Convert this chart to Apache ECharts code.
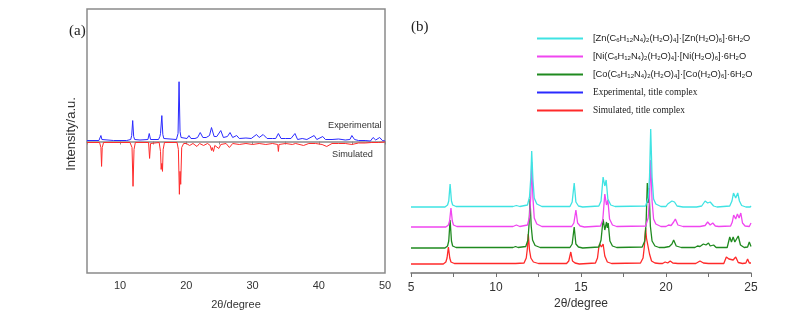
<!DOCTYPE html>
<html><head><meta charset="utf-8">
<script src="https://cdn.jsdelivr.net/npm/echarts@6/dist/echarts.min.js"></script>
<style>html,body{margin:0;padding:0;background:#fff}#c{width:794px;height:315px}</style>
</head><body><div id="c"></div>
<script>
// ---------- Panel (a): 2θ (deg) vs intensity (a.u.) ----------
const expA = [[5,1],[6.8,1],[6.95,2],[7.1,6],[7.25,2],[7.4,1],[9,1],[11,1],[11.6,2],[11.75,6],[11.9,21],[12.05,5],[12.2,2],[13,1.5],[14.2,2],[14.4,8],[14.6,2],[15.8,2],[16.0,5],[16.1,8],[16.3,26],[16.45,7],[16.6,3],[16.8,2],[18.5,2],[18.75,8],[18.9,60],[19.05,10],[19.2,4],[19.4,2],[20.1,3],[20.4,6],[20.7,3],[21.3,3],[21.7,4],[22.1,9],[22.5,4],[23.0,4],[23.5,6],[23.8,14],[24.2,5],[24.6,5],[25.2,11],[25.6,4],[26.2,5],[26.6,9],[27.0,4],[27.6,6],[28.0,3],[29,3.5],[29.8,3],[30.6,7],[31.0,4],[31.6,7],[32.2,3],[33,3],[33.5,3],[33.9,8],[34.3,3],[35,3],[35.8,3],[36.4,8],[36.8,2],[37.5,3],[38.2,2],[39.3,6],[39.7,2],[40.6,5],[41,2],[42,2],[43,2.5],[44,1.5],[44.7,2],[45,6],[45.4,2],[46,1],[47,1],[47.8,0.5],[48.2,4],[48.6,1.5],[49.2,4],[49.6,1],[50,0.5]];
const simA = [[5,-1],[6.9,-1],[7.1,-6],[7.2,-25],[7.3,-6],[7.5,-1],[11.5,-1],[11.8,-6],[11.95,-45],[12.1,-8],[12.3,-1],[14.3,-1],[14.45,-17],[14.6,-2],[15.9,-1],[16.1,-10],[16.2,-28],[16.3,-22],[16.4,-30],[16.5,-8],[16.7,-1],[18.6,-1],[18.8,-8],[18.95,-53],[19.05,-30],[19.15,-43],[19.3,-6],[19.6,-2],[20.0,-2],[20.5,-4],[21.0,-2],[21.6,-5],[22.0,-2],[22.6,-4],[23.2,-2],[23.6,-4],[23.8,-9],[23.9,-6],[24.1,-10],[24.3,-4],[24.9,-7],[25.2,-3],[25.5,-5],[26,-2],[26.5,-6],[27,-2],[28,-3],[29,-2],[30,-3],[31,-2],[32,-3],[33,-2],[33.8,-3],[33.9,-10],[34.0,-3],[35,-2],[36,-3],[36.5,-2],[37.7,-4],[38.5,-2],[39.5,-2],[40.5,-3],[41.2,-5],[42,-2],[43,-2],[44,-2],[45,-3],[46,-1.5],[47,-1.5],[48,-1],[49,-1],[50,-0.5]];
const xTicksA = [10,20,30,40,50];

// ---------- Panel (b): stacked patterns, heights above each baseline ----------
const znB = [[5,0],[7.0,0],[7.15,2],[7.22,6],[7.3,23],[7.38,6],[7.45,2],[7.65,0.5],[11.0,0.5],[11.2,1.5],[11.4,0.5],[11.85,2],[11.97,10],[12.05,30],[12.1,56],[12.17,28],[12.25,9],[12.4,3],[12.7,0.5],[14.35,0.5],[14.48,5],[14.6,24],[14.7,5],[14.85,1],[15.1,0],[16.05,1],[16.18,6],[16.3,30],[16.4,21],[16.48,27],[16.58,8],[16.75,2],[17.0,0.5],[18.8,1],[18.95,9],[19.03,30],[19.1,78],[19.18,30],[19.27,8],[19.4,3],[19.7,0.5],[20.0,0.5],[20.1,3],[20.2,2],[20.35,6],[20.5,5],[20.65,1],[21.0,0],[21.8,0],[21.9,2],[22.1,1],[22.3,6],[22.45,4],[22.6,5],[22.8,1],[23.0,0],[23.75,1],[23.88,6],[23.97,14],[24.1,9],[24.22,14],[24.32,6],[24.45,1.5],[24.7,0],[24.95,0],[25,1]];
const niB = [[5,0],[7.05,0],[7.2,2],[7.27,6],[7.35,19],[7.43,6],[7.5,2],[7.7,0.5],[11.0,0.5],[11.2,2],[11.4,0.5],[11.85,2],[11.97,10],[12.05,32],[12.1,65],[12.17,30],[12.25,9],[12.4,3],[12.7,0.5],[14.45,0.5],[14.58,4],[14.7,17],[14.8,4],[14.95,1],[15.2,0],[16.15,1],[16.28,7],[16.4,33],[16.5,22],[16.58,27],[16.68,8],[16.85,2],[17.1,0.5],[18.8,1],[18.95,9],[19.03,28],[19.1,67],[19.18,26],[19.27,8],[19.4,3],[19.7,0.5],[20.0,0.5],[20.15,2],[20.3,1.5],[20.45,5],[20.55,8],[20.7,2],[21.0,0.5],[22.0,0.5],[22.1,2],[22.3,1.5],[22.45,5],[22.6,2],[22.75,4],[22.9,1],[23.1,0.5],[23.8,1],[23.9,5],[23.98,12],[24.1,8],[24.2,13],[24.3,9],[24.4,14],[24.5,4],[24.65,1],[24.9,0.5],[25,4]];
const coB = [[5,0],[7.0,0],[7.15,2],[7.22,7],[7.3,28],[7.38,7],[7.45,2],[7.65,0.5],[11.0,0.5],[11.15,1.5],[11.3,0.5],[11.75,1.5],[11.88,8],[11.95,25],[12.0,49],[12.07,22],[12.15,8],[12.3,2.5],[12.6,0.5],[14.35,0.5],[14.48,4],[14.6,21],[14.7,4],[14.85,1],[15.1,0],[16.05,1],[16.18,8],[16.3,29],[16.4,18],[16.5,26],[16.55,20],[16.6,25],[16.7,7],[16.85,2],[17.1,0.5],[18.6,1],[18.75,7],[18.83,25],[18.9,65],[18.95,45],[19.0,60],[19.08,22],[19.18,7],[19.35,2],[19.6,0.5],[19.9,0.5],[20.0,2],[20.2,1.5],[20.35,4],[20.45,8],[20.6,2],[20.9,0.5],[21.7,0.5],[21.85,2],[22.0,1.5],[22.2,4],[22.35,3],[22.5,5],[22.6,2],[22.8,3],[22.95,0.5],[23.6,0.5],[23.75,11],[23.85,6],[23.95,11],[24.05,6],[24.25,12],[24.38,3],[24.6,0.5],[24.8,1],[24.9,6],[25,1.5]];
const simB = [[5,0],[6.9,0],[7.05,2],[7.12,6],[7.2,17],[7.28,6],[7.35,2],[7.55,0.5],[10.9,0.5],[11.0,1],[11.15,0.5],[11.65,1],[11.78,6],[11.85,16],[11.9,30],[11.97,14],[12.05,6],[12.2,2],[12.5,0.5],[14.15,0.5],[14.28,3],[14.4,12],[14.5,3],[14.65,1],[14.9,0],[15.85,1],[15.97,6],[16.05,17],[16.1,20],[16.2,17],[16.3,20],[16.4,8],[16.55,2],[16.8,0.5],[18.5,1],[18.65,6],[18.73,18],[18.8,36],[18.85,26],[18.95,27],[19.03,10],[19.15,3],[19.35,1],[19.6,0.5],[19.8,0.5],[19.95,2],[20.1,1],[20.25,3],[20.4,1],[20.7,0.5],[21.5,0.5],[21.6,2],[21.75,0.5],[22.0,3],[22.2,1],[22.5,0.5],[23.4,0.5],[23.55,7],[23.7,5],[23.8,7],[23.95,4],[24.1,7],[24.25,1.5],[24.5,0.5],[24.7,1],[24.8,5],[24.9,1],[25,1]];
const offsetsB = {zn: 66, ni: 46, co: 25, sim: 9};
const xTicksB = [5,10,15,20,25];

const names = {
  zn: '[Zn(C6H12N4)2(H2O)4]·[Zn(H2O)6]·6H2O',
  ni: '[Ni(C6H12N4)2(H2O)4]·[Ni(H2O)6]·6H2O',
  co: '[Co(C6H12N4)2(H2O)4]·[Co(H2O)6]·6H2O',
  exp: 'Experimental, title complex',
  sim: 'Simulated, title complex'
};
const colors = {zn:'#3fe3e3', ni:'#f046f0', co:'#1f8a1f', exp:'#2a2aff', sim:'#ff2a2a'};

function shift(arr, off){ return arr.map(p => [p[0], p[1] + off]); }
function formula(metal){
  return `{n|[${metal}(C}{s|6}{n|H}{s|12}{n|N}{s|4}{n|)}{s|2}{n|(H}{s|2}{n|O)}{s|4}{n|]·[${metal}(H}{s|2}{n|O)}{s|6}{n|]·6H}{s|2}{n|O}`;
}
const legendFmt = {};
legendFmt[names.zn] = formula('Zn');
legendFmt[names.ni] = formula('Ni');
legendFmt[names.co] = formula('Co');
legendFmt[names.exp] = '{t|' + names.exp + '}';
legendFmt[names.sim] = '{t|' + names.sim + '}';

const chart = echarts.init(document.getElementById('c'), null, {renderer:'canvas'});
const axisTxt = '#333';
chart.setOption({
  animation: false,
  backgroundColor: '#fff',
  textStyle: {fontFamily: 'Liberation Sans, Arial, sans-serif'},
  title: [
    {text:'(a)', left: 64, top: 19, textStyle:{fontFamily:'Liberation Serif, serif', fontSize:15, fontWeight:'normal', color:'#222'}},
    {text:'(b)', left: 406, top: 15, textStyle:{fontFamily:'Liberation Serif, serif', fontSize:15, fontWeight:'normal', color:'#222'}}
  ],
  legend: {
    orient:'vertical', left: 532, top: 29, itemWidth: 46, itemHeight: 2, itemGap: 9,
    icon: 'rect', selectedMode: false,
    data: [names.zn, names.ni, names.co, names.exp, names.sim],
    formatter: n => legendFmt[n],
    textStyle: {
      padding: [0,0,0,5],
      rich: {
        n: {fontSize: 9.3, fontFamily:'Liberation Sans, Arial, sans-serif', color:'#222', verticalAlign:'middle'},
        s: {fontSize: 6, fontFamily:'Liberation Sans, Arial, sans-serif', color:'#222', verticalAlign:'bottom'},
        t: {fontSize: 9.4, fontFamily:'Liberation Serif, serif', color:'#222'}
      }
    }
  },
  grid: [
    {left: 87, right: 409, top: 9, bottom: 41, show: true, borderColor:'#8a8a8a', borderWidth: 1.5, backgroundColor:'transparent'},
    {left: 411, right: 43, top: 120, bottom: 42}
  ],
  xAxis: [
    {gridIndex:0, type:'value', min:5, max:50, interval:5,
     name:'2θ/degree', nameLocation:'middle', nameGap: 26, nameTextStyle:{fontSize:11, color:axisTxt},
     axisLine:{lineStyle:{color:'#8a8a8a', width:1.5}},
     axisTick:{length:3, lineStyle:{color:'#8a8a8a'}},
     axisLabel:{fontSize:11, color:axisTxt, margin:7, formatter: v => xTicksA.includes(v) ? String(v) : ''},
     splitLine:{show:false}},
    {gridIndex:1, type:'value', min:5, max:25, interval:2.5,
     name:'2θ/degree', nameLocation:'middle', nameGap: 25, nameTextStyle:{fontSize:12, color:axisTxt},
     axisLine:{lineStyle:{color:'#707070', width:1.5}},
     axisTick:{length:4, lineStyle:{color:'#707070'}},
     axisLabel:{fontSize:12, color:axisTxt, margin:9, formatter: v => xTicksB.includes(v) ? String(v) : ''},
     splitLine:{show:false}}
  ],
  yAxis: [
    {gridIndex:0, type:'value', min:-132, max:133,
     name:'Intensity/a.u.', nameLocation:'middle', nameGap: 9, nameRotate: 90,
     nameTextStyle:{fontSize:13, color:axisTxt, padding:[0,0,0,14]},
     axisLine:{show:false}, axisTick:{show:false}, axisLabel:{show:false}, splitLine:{show:false}},
    {gridIndex:1, type:'value', min:0, max:153, show:false}
  ],
  graphic: [
    {type:'text', left: 328, top: 121, style:{text:'Experimental', fontSize:9.2, fill:'#333', fontFamily:'Liberation Sans, Arial, sans-serif'}},
    {type:'text', left: 332, top: 150, style:{text:'Simulated', fontSize:9.2, fill:'#333', fontFamily:'Liberation Sans, Arial, sans-serif'}}
  ],
  series: [
    {name:names.exp, type:'line', xAxisIndex:0, yAxisIndex:0, data: expA, showSymbol:false, lineStyle:{width:1, color:colors.exp}, itemStyle:{color:colors.exp}},
    {name:names.sim, type:'line', xAxisIndex:0, yAxisIndex:0, data: simA, showSymbol:false, lineStyle:{width:1, color:colors.sim}, itemStyle:{color:colors.sim}},
    {name:names.sim, type:'line', xAxisIndex:1, yAxisIndex:1, data: shift(simB, offsetsB.sim), showSymbol:false, lineStyle:{width:1.3, color:colors.sim}, itemStyle:{color:colors.sim}},
    {name:names.co, type:'line', xAxisIndex:1, yAxisIndex:1, data: shift(coB, offsetsB.co), showSymbol:false, lineStyle:{width:1.3, color:colors.co}, itemStyle:{color:colors.co}},
    {name:names.ni, type:'line', xAxisIndex:1, yAxisIndex:1, data: shift(niB, offsetsB.ni), showSymbol:false, lineStyle:{width:1.3, color:colors.ni}, itemStyle:{color:colors.ni}},
    {name:names.zn, type:'line', xAxisIndex:1, yAxisIndex:1, data: shift(znB, offsetsB.zn), showSymbol:false, lineStyle:{width:1.3, color:colors.zn}, itemStyle:{color:colors.zn}}
  ]
});
</script></body></html>
